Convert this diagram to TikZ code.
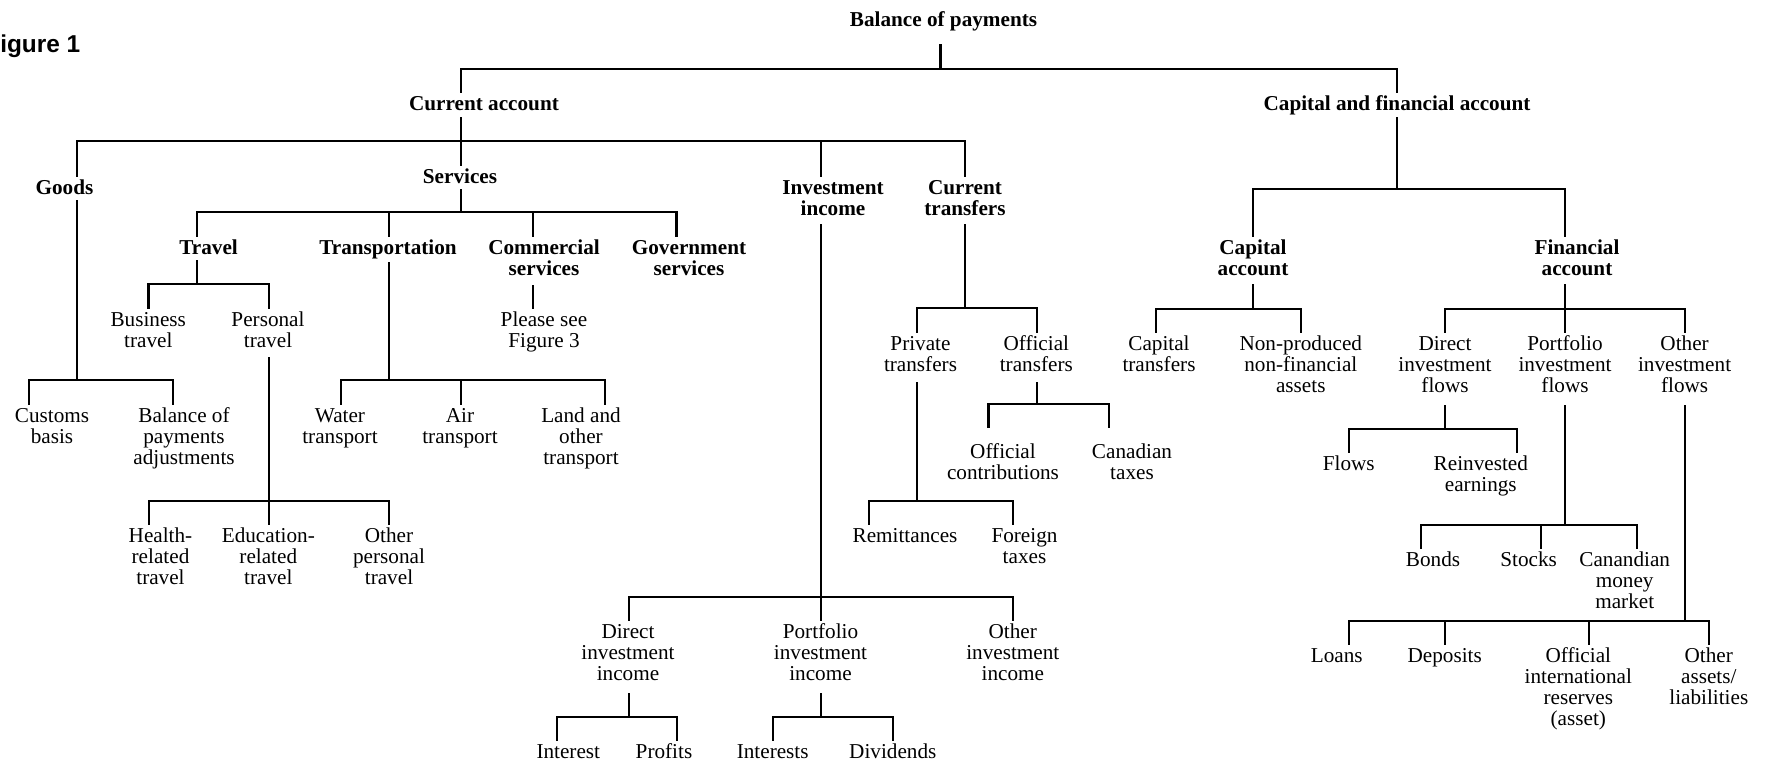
\documentclass[tikz,border=0pt]{standalone}
\usepackage{fontspec}
\setmainfont{Liberation Serif}
\newfontfamily\labelsans{Liberation Sans}
\usetikzlibrary{calc}
\tikzset{
  lab/.style={anchor=base, align=center, inner sep=0pt, font=\fontsize{10.6}{10.5}\selectfont},
  head/.style={lab, font=\fontsize{10.6}{10.5}\selectfont\bfseries},
  link/.style={line width=1.1pt, line join=miter},
}
% \treenode[style]{name}{x}{first baseline y}{lines}{stem dx}{stem top dy}{stem bottom dy}{text}
% (stem offsets are measured from the first baseline; the base anchor sits on the last line)
\newcommand\treenode[9][lab]{%
  \node[#1] (#2) at ({#3},{#4+(#5-1)*21}) {#9};
  \coordinate (#2-t) at ($(#2.base)+({#6},{#7-(#5-1)*21})$);
  \coordinate (#2-b) at ($(#2.base)+({#6},{#8-(#5-1)*21})$);
}
% \treelink{parent}{child}{bar y}
\newcommand\treelink[3]{\draw[link] (#1-b) |- (#2-t |- 0,#3) -- (#2-t);}
\begin{document}
\begin{tikzpicture}[x=0.5pt, y=-0.5pt]
\useasboundingbox (0,0) rectangle (1768,768);

\node[anchor=base west, inner sep=0pt, font={\labelsans\bfseries\fontsize{12.2}{14}\selectfont}] (fig) at (-15,52) {Figure 1};

% headings
\treenode[head]{bop}{943.5}{26}{1}{-3}{-17.5}{18}{Balance of payments}
\treenode[head]{ca}{484}{110}{1}{-23}{-17.5}{7}{Current account}
\treenode[head]{cfa}{1397}{110}{1}{0}{-17.5}{7}{Capital and financial account}
\treenode[head]{goods}{64.5}{194}{1}{12.5}{-17.5}{6}{Goods}
\treenode[head]{serv}{460}{183}{1}{1}{-17.5}{6}{Services}
\treenode[head]{invinc}{833}{194}{2}{-12}{-17.5}{30}{Investment\\income}
\treenode[head]{curtr}{965}{194}{2}{0}{-17.5}{30}{Current\\transfers}
\treenode[head]{travel}{208.6}{254}{1}{-11.6}{-17.5}{6}{Travel}
\treenode[head]{transp}{388}{254}{1}{1}{-17.5}{8}{Transportation}
\treenode[head]{comm}{544}{254}{2}{-11}{-17.5}{31}{Commercial\\services}
\treenode[head]{gov}{689}{254}{2}{-12.5}{-17.5}{0}{Government\\services}
\treenode[head]{capacc}{1253}{254}{2}{0}{-17.5}{30}{Capital\\account}
\treenode[head]{finacc}{1577}{254}{2}{-12}{-17.5}{30}{Financial\\account}

% current account items
\treenode{customs}{52}{422}{2}{-23.3}{-17.5}{0}{Customs\\basis}
\treenode{bopadj}{184}{422}{3}{-11}{-17.5}{0}{Balance of\\payments\\adjustments}
\treenode{bustr}{148.3}{326}{2}{0.2}{-17.5}{0}{Business\\travel}
\treenode{perstr}{268}{326}{2}{1}{-17.5}{31}{Personal\\travel}
\treenode{health}{160.5}{542}{3}{-11.5}{-17.5}{0}{Health-\\related\\travel}
\treenode{educ}{268.3}{542}{3}{0.7}{-17.5}{0}{Education-\\related\\travel}
\treenode{othpers}{389}{542}{3}{0}{-17.5}{0}{Other\\personal\\travel}
\treenode{water}{340}{422}{2}{0.6}{-17.5}{0}{Water\\transport}
\treenode{air}{460}{422}{2}{1}{-17.5}{0}{Air\\transport}
\treenode{land}{581}{422}{3}{24}{-17.5}{0}{Land and\\other\\transport}
\treenode{please}{544}{326}{2}{-11}{-17.5}{0}{Please see\\Figure 3}
\treenode{privtr}{920.5}{350}{2}{-3.5}{-17.5}{32}{Private\\transfers}
\treenode{offtr}{1036.3}{350}{2}{0.7}{-17.5}{32}{Official\\transfers}
\treenode{offcon}{1003}{458}{2}{-14.6}{-30}{0}{Official\\contributions}
\treenode{cantax}{1132}{458}{2}{-23}{-30}{0}{Canadian\\taxes}
\treenode{remit}{905}{542}{1}{-36}{-17.5}{0}{Remittances}
\treenode{fortax}{1024.5}{542}{2}{-11.5}{-17.5}{0}{Foreign\\taxes}
\treenode{dii}{628}{638}{3}{1}{-17.5}{55}{Direct\\investment\\income}
\treenode{pii}{820.5}{638}{3}{0.5}{-17.5}{55}{Portfolio\\investment\\income}
\treenode{oii}{1012.8}{638}{3}{0}{-17.5}{0}{Other\\investment\\income}
\treenode{interest}{568.3}{758}{1}{-11.7}{-17.5}{0}{Interest}
\treenode{profits}{664}{758}{1}{12.8}{-17.5}{0}{Profits}
\treenode{interests}{772.7}{758}{1}{0.2}{-17.5}{0}{Interests}
\treenode{dividends}{892.8}{758}{1}{0.2}{-17.5}{0}{Dividends}

% capital and financial account items
\treenode{captr}{1159}{350}{2}{-3}{-17.5}{0}{Capital\\transfers}
\treenode{nonprod}{1300.8}{350}{3}{0}{-17.5}{0}{Non-produced\\non-financial\\assets}
\treenode{dif}{1445}{350}{3}{-0.3}{-17.5}{55}{Direct\\investment\\flows}
\treenode{pif}{1565}{350}{3}{-0.2}{-17.5}{55}{Portfolio\\investment\\flows}
\treenode{oif}{1684.6}{350}{3}{0}{-17.5}{55}{Other\\investment\\flows}
\treenode{flows}{1348.8}{470}{1}{-0.2}{-17.5}{0}{Flows}
\treenode{reinv}{1480.8}{470}{2}{36.2}{-17.5}{0}{Reinvested\\earnings}
\treenode{bonds}{1433}{566}{1}{-12}{-17.5}{0}{Bonds}
\treenode{stocks}{1528.7}{566}{1}{12.3}{-17.5}{0}{Stocks}
\treenode{canmm}{1624.7}{566}{3}{12.3}{-17.5}{0}{Canandian\\money\\market}
\treenode{loans}{1336.7}{662}{1}{12.3}{-17.5}{0}{Loans}
\treenode{deposits}{1444.7}{662}{1}{0}{-17.5}{0}{Deposits}
\treenode{oir}{1578.3}{662}{4}{10.7}{-17.5}{0}{Official\\international\\reserves\\(asset)}
\treenode{oal}{1708.8}{662}{3}{0}{-17.5}{0}{Other\\assets/\\liabilities}

% connectors
\foreach \c in {ca,cfa} {\treelink{bop}{\c}{69}}
\foreach \c in {goods,serv,invinc,curtr} {\treelink{ca}{\c}{141}}
\foreach \c in {travel,transp,comm,gov} {\treelink{serv}{\c}{212}}
\foreach \c in {customs,bopadj} {\treelink{goods}{\c}{380}}
\foreach \c in {bustr,perstr} {\treelink{travel}{\c}{284}}
\foreach \c in {health,educ,othpers} {\treelink{perstr}{\c}{501}}
\foreach \c in {water,air,land} {\treelink{transp}{\c}{380}}
\treelink{comm}{please}{300}
\foreach \c in {privtr,offtr} {\treelink{curtr}{\c}{308}}
\foreach \c in {offcon,cantax} {\treelink{offtr}{\c}{404}}
\foreach \c in {remit,fortax} {\treelink{privtr}{\c}{501}}
\foreach \c in {dii,pii,oii} {\treelink{invinc}{\c}{597}}
\foreach \c in {interest,profits} {\treelink{dii}{\c}{717}}
\foreach \c in {interests,dividends} {\treelink{pii}{\c}{717}}
\foreach \c in {capacc,finacc} {\treelink{cfa}{\c}{189}}
\foreach \c in {captr,nonprod} {\treelink{capacc}{\c}{309}}
\foreach \c in {dif,pif,oif} {\treelink{finacc}{\c}{309}}
\foreach \c in {flows,reinv} {\treelink{dif}{\c}{429}}
\foreach \c in {bonds,stocks,canmm} {\treelink{pif}{\c}{525}}
\foreach \c in {loans,deposits,oir,oal} {\treelink{oif}{\c}{621}}
\end{tikzpicture}
\end{document}
